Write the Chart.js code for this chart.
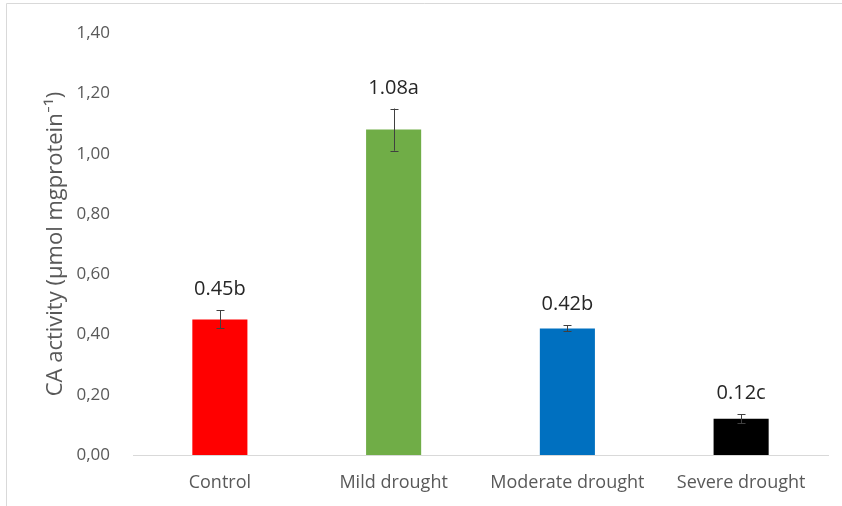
<!DOCTYPE html>
<html>
<head>
<meta charset="utf-8">
<script src="https://cdn.jsdelivr.net/npm/chart.js@4"></script>
<style>
    html, body { margin: 0; padding: 0; background: #fff; }
    #wrap { width: 842px; height: 506px; }
</style>
</head>
<body>
<div id="wrap"><canvas id="caChart"></canvas></div>
<script>
// Treatments and measured CA activity
const treatments = ["Control", "Mild drought", "Moderate drought", "Severe drought"];
const activity = [0.45, 1.08, 0.42, 0.12];
const errors = [0.03, 0.07, 0.01, 0.015];
const groups = ["b", "a", "b", "c"];
const barColors = ["#FF0000", "#70AD47", "#0070C0", "#000000"];
const yTicks = [0, 0.2, 0.4, 0.6, 0.8, 1.0, 1.2, 1.4];

const fontFamily = "'Open Sans', Lato, sans-serif";
const grey = "#595959";

// Thin frame round the chart
const framePlugin = {
    id: 'frame',
    beforeDraw(chart) {
        const ctx = chart.ctx;
        ctx.save();
        ctx.strokeStyle = '#d9d9d9';
        ctx.lineWidth = 1;
        ctx.beginPath();
        ctx.moveTo(6.5, chart.height);
        ctx.lineTo(6.5, 3.5);
        ctx.lineTo(chart.width, 3.5);
        ctx.stroke();
        ctx.restore();
    }
};

// Error bars and significance labels over each bar
const errorBarPlugin = {
    id: 'errorBars',
    afterDatasetsDraw(chart) {
        const ctx = chart.ctx;
        const y = chart.scales.y;
        const meta = chart.getDatasetMeta(0);
        ctx.save();
        meta.data.forEach((bar, i) => {
            const x = Math.round(bar.x) + 0.5;
            const top = y.getPixelForValue(activity[i] + errors[i]);
            const bottom = y.getPixelForValue(activity[i] - errors[i]);
            ctx.strokeStyle = '#404040';
            ctx.lineWidth = 1;
            ctx.beginPath();
            ctx.moveTo(x, top);
            ctx.lineTo(x, bottom);
            ctx.moveTo(x - 4, Math.round(top) + 0.5);
            ctx.lineTo(x + 4, Math.round(top) + 0.5);
            ctx.moveTo(x - 4, Math.round(bottom) + 0.5);
            ctx.lineTo(x + 4, Math.round(bottom) + 0.5);
            ctx.stroke();

            ctx.fillStyle = '#262626';
            ctx.font = "20px " + fontFamily;
            ctx.textAlign = 'center';
            ctx.textBaseline = 'alphabetic';
            ctx.fillText(activity[i].toFixed(2) + groups[i], bar.x, top - 15);
        });
        ctx.restore();
    }
};

new Chart(document.getElementById('caChart'), {
    type: 'bar',
    data: {
        labels: treatments,
        datasets: [
            {
                data: activity,
                backgroundColor: barColors,
                borderWidth: 0,
                categoryPercentage: 1,
                barPercentage: 0.317
            }
        ]
    },
    options: {
        responsive: true,
        maintainAspectRatio: false,
        animation: false,
        devicePixelRatio: 1,
        layout: {
            padding: { left: 7, top: 27, right: 14, bottom: 0 }
        },
        plugins: {
            legend: { display: false },
            tooltip: { enabled: false }
        },
        scales: {
            x: {
                grid: { display: false, drawTicks: false },
                border: { display: true, color: '#d9d9d9', width: 1 },
                ticks: {
                    color: grey,
                    padding: 17,
                    font: { family: fontFamily, size: 18 }
                },
                afterFit: function (scale) {
                    scale.height = 51;
                }
            },
            y: {
                min: 0,
                max: 1.4,
                grid: { display: false, drawTicks: false },
                border: { display: false },
                afterBuildTicks: function (scale) {
                    scale.ticks = yTicks.map(v => ({ value: v }));
                },
                ticks: {
                    color: grey,
                    padding: 23,
                    font: { family: fontFamily, size: 17 },
                    callback: function (value) {
                        return value.toFixed(2).replace('.', ',');
                    }
                },
                title: {
                    display: true,
                    text: 'CA activity (µmol mgprotein⁻¹)',
                    color: grey,
                    padding: { top: 36, bottom: 0 },
                    font: { family: fontFamily, size: 22 }
                },
                afterFit: function (scale) {
                    scale.width = 126;
                }
            }
        }
    },
    plugins: [framePlugin, errorBarPlugin]
});
</script>
</body>
</html>
